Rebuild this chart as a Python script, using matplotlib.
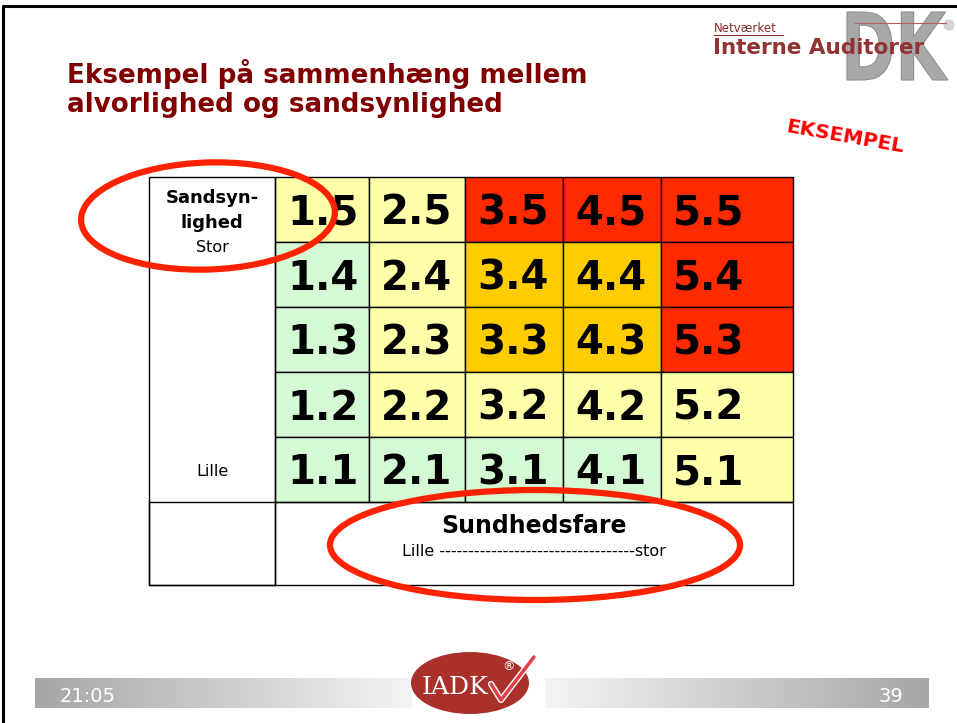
import matplotlib
matplotlib.use("Agg")
import numpy as np
import matplotlib.pyplot as plt
from matplotlib.patches import Rectangle, Ellipse, PathPatch, Circle
from matplotlib.textpath import TextPath
from matplotlib.font_manager import FontProperties
from matplotlib.transforms import Affine2D

# data
severity = [1, 2, 3, 4, 5]          # Sundhedsfare (columns)
likelihood = [5, 4, 3, 2, 1]        # Sandsynlighed (rows, top to bottom)
# risk level per cell: 0 = low, 1 = medium, 2 = high, 3 = very high
risk_level = [
    [1, 1, 3, 3, 3],
    [0, 1, 2, 2, 3],
    [0, 1, 2, 2, 3],
    [0, 1, 1, 1, 1],
    [0, 0, 0, 0, 1],
]
level_colors = ["#D4FAD4", "#FFFFAA", "#FFCC00", "#FF2A00"]

title_lines = ["Eksempel på sammenhæng mellem", "alvorlighed og sandsynlighed"]
x_title = "Sundhedsfare"
x_scale = "Lille " + "-" * 34 + "stor"
y_title_lines = ["Sandsyn-", "lighed"]
y_high = "Stor"
y_low = "Lille"

W, H = 957, 723
fig = plt.figure(figsize=(W / 100, H / 100), dpi=100)
ax = fig.add_axes([0, 0, 1, 1])
ax.set_xlim(0, W)
ax.set_ylim(H, 0)
ax.axis("off")

dark_red = "#800000"

# slide border
ax.plot([3, 3, W], [H, 6, 6], color="black", lw=2.2, solid_capstyle="butt")

# title
for k, line in enumerate(title_lines):
    ax.text(67, 83 + 29 * k, line, fontsize=18.8, fontweight="bold",
            color=dark_red, va="baseline", ha="left")

# logo top right
tp = TextPath((0, 0), "DK", size=1, prop=FontProperties(family="DejaVu Sans", weight="bold"))
bb = tp.get_extents()
sx = (948 - 847) / bb.width
sy = (80 - 12) / bb.height
tr = Affine2D().translate(-bb.x0, -bb.y0).scale(sx, -sy).translate(847, 80)
ax.add_patch(PathPatch(tr.transform_path(tp), facecolor="#A8A8A8", edgecolor="#909090",
                       lw=0.8, zorder=1))
ax.add_patch(Circle((949, 25), 5, color="#D5D5D5", zorder=1))
ax.text(714, 32, "Netværket", fontsize=8.5, color="#8B2A2A", va="baseline", zorder=3)
ax.plot([714, 783], [34.5, 34.5], color="#8B2A2A", lw=0.8, zorder=3)
ax.plot([855, 946], [23, 23], color="#B06060", lw=0.8, zorder=3)
ax.text(713, 54, "Interne Auditorer", fontsize=15.5, fontweight="bold",
        color="#933232", va="baseline", zorder=3)

# EKSEMPEL stamp
ax.text(845, 137, "EKSEMPEL", fontsize=14.5, fontweight="bold", color="#FF0000",
        rotation=-10, ha="center", va="center", rotation_mode="anchor")

# grid geometry
col_edges = [275, 369, 465, 563, 661, 793]
row_edges = [177, 242, 307, 372, 437, 502]
left, bottom = 149, 585

for i, l in enumerate(likelihood):
    for j, s in enumerate(severity):
        x0, x1 = col_edges[j], col_edges[j + 1]
        y0, y1 = row_edges[i], row_edges[i + 1]
        ax.add_patch(Rectangle((x0, y0), x1 - x0, y1 - y0,
                               facecolor=level_colors[risk_level[i][j]],
                               edgecolor="black", lw=1.0, zorder=2))
        ax.text(x0 + 12, (y0 + y1) / 2 + 15, f"{s}.{l}", fontsize=29,
                fontweight="bold", color="black", ha="left", va="baseline", zorder=3)

# label column and bottom row
ax.add_patch(Rectangle((left, row_edges[0]), col_edges[0] - left, bottom - row_edges[0],
                       facecolor="none", edgecolor="black", lw=1.0, zorder=2))
ax.add_patch(Rectangle((left, row_edges[-1]), col_edges[-1] - left, bottom - row_edges[-1],
                       facecolor="none", edgecolor="black", lw=1.0, zorder=2))
ax.plot([col_edges[0], col_edges[0]], [row_edges[-1], bottom], color="black", lw=1.0, zorder=2)

cx = (left + col_edges[0]) / 2
for k, line in enumerate(y_title_lines):
    ax.text(cx, 203 + 25 * k, line, fontsize=13, fontweight="bold", ha="center",
            va="baseline", zorder=3)
ax.text(cx, 252, y_high, fontsize=11.5, ha="center", va="baseline", zorder=3)
ax.text(cx, 476, y_low, fontsize=11.5, ha="center", va="baseline", zorder=3)

ax.text(534, 533, x_title, fontsize=17, fontweight="bold", ha="center",
        va="baseline", zorder=3)
ax.text(534, 556, x_scale, fontsize=11.5, ha="center", va="baseline", zorder=3)

# red highlight ellipses
ring = "#FF2200"
ax.add_patch(Ellipse((208, 216), 254, 107, angle=-2, facecolor="none",
                     edgecolor=ring, lw=4.5, zorder=4))
ax.add_patch(Ellipse((535, 545), 410, 110, facecolor="none",
                     edgecolor=ring, lw=4.5, zorder=4))

# footer bars
grad = np.linspace(0, 1, 256).reshape(1, -1)
gcm = matplotlib.colors.LinearSegmentedColormap.from_list("g", ["#A6A6A6", "#F4F4F4"])
ax.imshow(grad, cmap=gcm, extent=[35, 412, 708, 678], aspect="auto", zorder=1)
ax.imshow(grad[:, ::-1], cmap=gcm, extent=[545, 929, 708, 678], aspect="auto", zorder=1)
ax.set_xlim(0, W)
ax.set_ylim(H, 0)
ax.text(60, 702, "21:05", fontsize=14, color="white", va="baseline", zorder=3)
ax.text(878, 702, "39", fontsize=14, color="white", va="baseline", zorder=3)

# IADK logo
ax.add_patch(Ellipse((470, 683), 118, 62, facecolor="#A9302B", edgecolor="none", zorder=4))
ax.text(455, 694, "IADK", family="DejaVu Serif", fontsize=18, color="white",
        ha="center", va="baseline", zorder=5)
ax.plot([491, 501, 534], [684, 700, 657], color="white", lw=4.5, zorder=5,
        solid_capstyle="round", solid_joinstyle="round")
ax.plot([491, 501, 534], [684, 700, 657], color="#E0404A", lw=2.5, zorder=6,
        solid_capstyle="round", solid_joinstyle="round")
ax.text(508, 670, "®", fontsize=9, color="white", ha="center", va="baseline", zorder=6)

fig.savefig("out.png", dpi=100)
